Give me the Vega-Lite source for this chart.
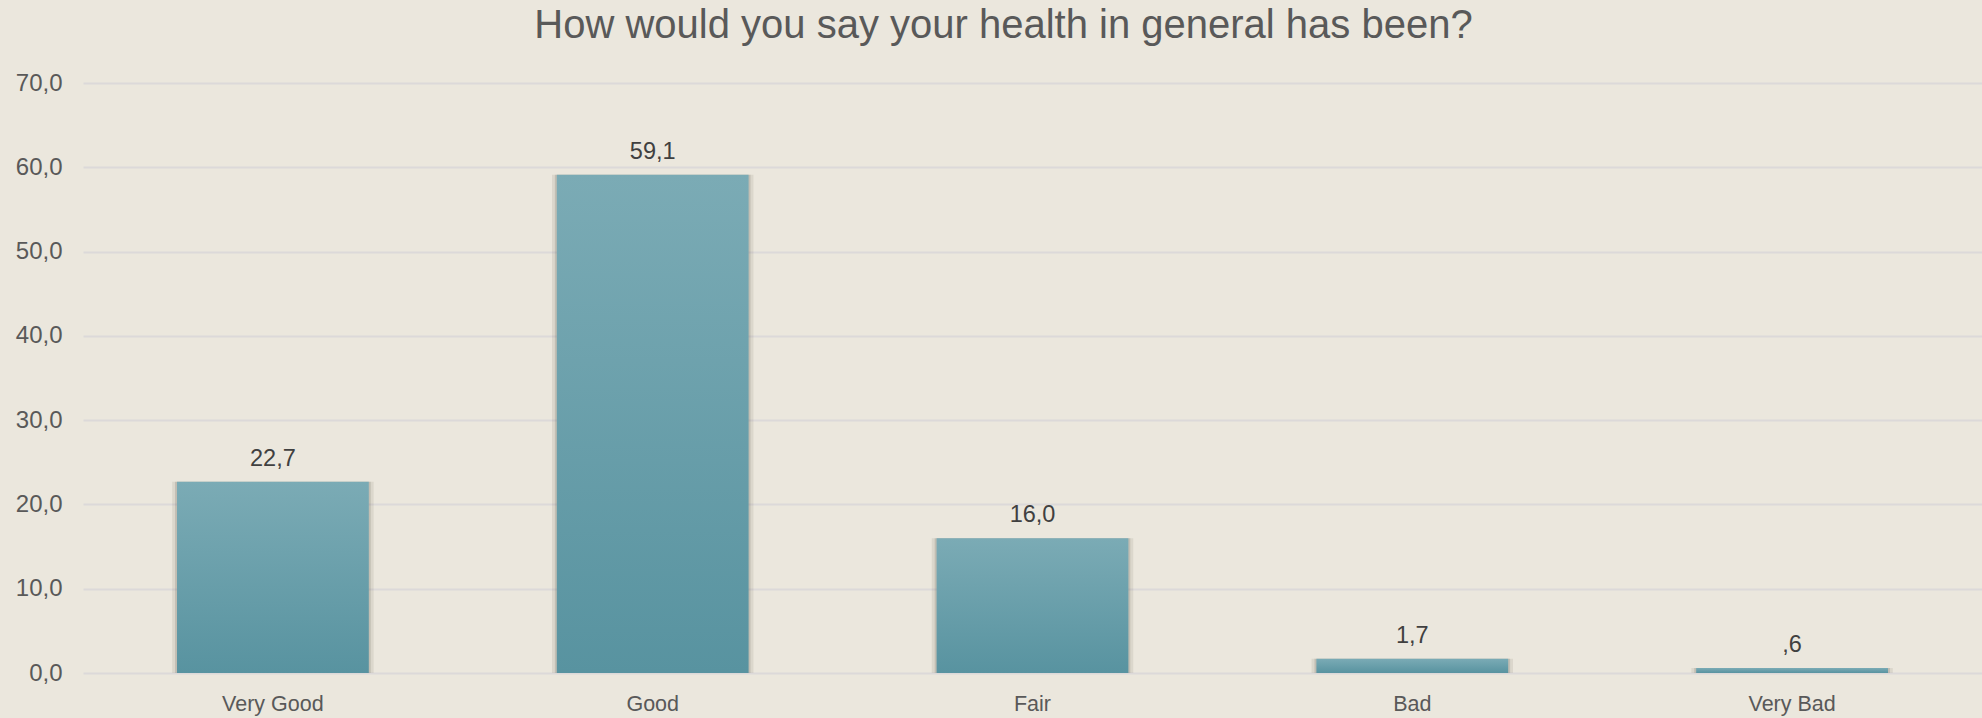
{
  "$schema": "https://vega.github.io/schema/vega-lite/v6.json",
  "width": 1899,
  "height": 590,
  "autosize": "none",
  "padding": {"left": 83, "top": 83, "right": 0, "bottom": 45},
  "background": "#ebe7dd",
  "title": {
    "text": "How would you say your health in general has been?",
    "font": "Liberation Sans",
    "fontSize": 40,
    "fontWeight": "normal",
    "color": "#595959",
    "anchor": "middle",
    "frame": "group",
    "dx": -29,
    "dy": 7,
    "baseline": "alphabetic",
    "offset": 0
  },
  "data": {
    "values": [
      {"category": "Very Good", "pct": 22.7},
      {"category": "Good", "pct": 59.1},
      {"category": "Fair", "pct": 16.0},
      {"category": "Bad", "pct": 1.7},
      {"category": "Very Bad", "pct": 0.6}
    ]
  },
  "transform": [
    {"calculate": "replace(format(datum.pct, '.1f'), '.', ',')", "as": "lbl0"},
    {"calculate": "datum.pct < 1 ? substring(datum.lbl0, 1) : datum.lbl0", "as": "label"}
  ],
  "encoding": {
    "x": {
      "field": "category",
      "type": "nominal",
      "sort": null,
      "scale": {"paddingInner": 0.495, "paddingOuter": 0.2475},
      "axis": {
        "title": null,
        "labelAngle": 0,
        "labelFont": "Liberation Sans",
        "labelFontSize": 21.5,
        "labelColor": "#595959",
        "labelPadding": 20,
        "ticks": false,
        "domain": false,
        "grid": false
      }
    },
    "y": {
      "field": "pct",
      "type": "quantitative",
      "scale": {"domain": [0, 70], "nice": false, "zero": true},
      "axis": {
        "title": null,
        "values": [0, 10, 20, 30, 40, 50, 60, 70],
        "format": ".1f",
        "labelFont": "Liberation Sans",
        "labelFontSize": 24,
        "labelColor": "#595959",
        "labelPadding": 21,
        "ticks": false,
        "domain": false,
        "grid": true,
        "gridColor": "#dcd9d9",
        "gridWidth": 2
      }
    }
  },
  "layer": [
    {
      "mark": {"type": "bar", "width": {"band": 1.05}, "color": "#6a6355", "opacity": 0.12, "y2Offset": 3}
    },
    {
      "mark": {"type": "bar", "width": {"band": 1.02}, "color": "#555045", "opacity": 0.18, "y2Offset": 2}
    },
    {
      "mark": {
        "type": "bar",
        "color": {
          "gradient": "linear",
          "x1": 0, "y1": 0, "x2": 0, "y2": 1,
          "stops": [
            {"offset": 0, "color": "#7babb5"},
            {"offset": 1, "color": "#5893a0"}
          ]
        }
      }
    },
    {
      "mark": {
        "type": "text",
        "baseline": "alphabetic",
        "dy": -16,
        "font": "Liberation Sans",
        "fontSize": 23.5,
        "color": "#404040"
      },
      "encoding": {"text": {"field": "label"}}
    }
  ],
  "config": {
    "view": {"stroke": null},
    "locale": {
      "number": {"decimal": ",", "thousands": ".", "grouping": [3], "currency": ["", " €"]}
    }
  }
}
